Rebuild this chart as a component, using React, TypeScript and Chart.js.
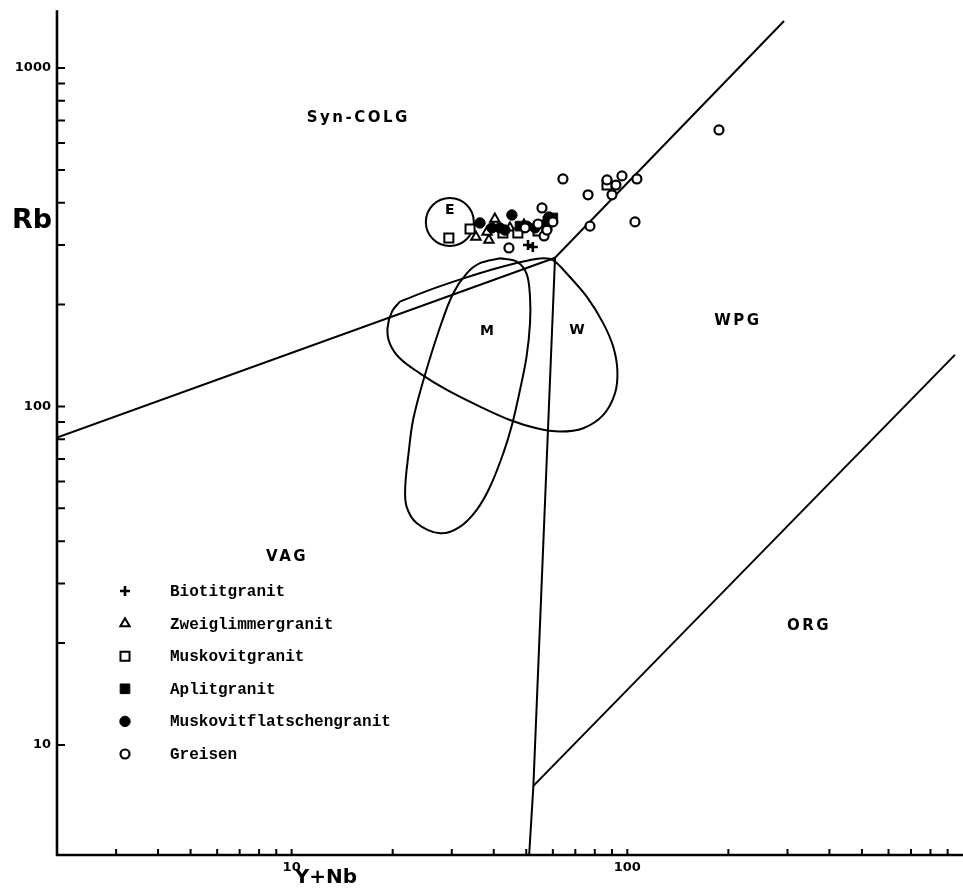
import React, { useEffect, useRef } from "react";
import { Chart, registerables } from "chart.js";

Chart.register(...registerables);

// ---- Axis ranges (log scales) ----
const xRange = [2, 1000];
const yRange = [4.73, 1588];
const yAxisTop = 1480;

const xTicks = [3, 4, 5, 6, 7, 8, 9, 10, 20, 30, 40, 50, 60, 70, 80, 90, 100, 200, 300, 400, 500, 600, 700, 800, 900];
const yTicks = [10, 20, 30, 40, 50, 60, 70, 80, 90, 100, 200, 300, 400, 500, 600, 700, 800, 900, 1000];
const xTickLabels = [10, 100];
const yTickLabels = [10, 100, 1000];
const xTitle = "Y+Nb";
const yTitle = "Rb";

// ---- Field boundaries (Y+Nb, Rb) ----
const lineVagSyn = [[2, 81], [60.9, 275]];
const lineSynWpg = [[60.9, 275], [293, 1377]];
const lineVagWpg = [[60.9, 275], [52.5, 7.57], [51.0, 4.73]];
const lineWpgOrg = [[52.5, 7.57], [946, 142]];

// ---- Comparison fields ----
const fieldM = [
  [41.7, 274], [46.8, 268], [50.1, 247], [51.3, 211], [51.3, 176], [50.1, 140.3], [47.9, 111.9],
  [45.2, 87.2], [42.7, 72.7], [39.0, 57.9], [35.6, 49.5], [31.7, 44.1], [27.7, 42.2], [23.6, 45.2],
  [22.0, 50.6], [21.8, 57.9], [22.3, 72.7], [23.0, 91.2], [24.7, 119.8], [27.7, 172], [30.3, 216],
  [33.2, 247], [36.4, 265], [41.7, 274],
];
const fieldW = [
  [21.0, 204], [25.8, 221], [32.5, 239], [40.8, 256], [49.0, 268], [56.2, 274], [60.2, 270],
  [66.0, 247], [75.7, 211], [84.8, 176], [90.8, 150], [93.4, 128], [91.9, 109.4], [84.8, 94.4],
  [73.9, 86.2], [63.0, 84.3], [53.7, 86.2], [44.7, 91.2], [36.4, 99.9], [29.0, 111.9], [24.1, 125.3],
  [21.0, 138.8], [19.6, 153.7], [19.3, 170.2], [19.9, 190.6], [21.0, 204],
];
const fieldE = [[29.6, 350.7]];

// ---- Field labels ----
const fieldLabels = ["Syn-COLG", "WPG", "VAG", "ORG", "M", "W", "E"];
const fieldLabelX = [15.8, 213.6, 9.69, 347.6, 38.2, 70.8, 29.6];
const fieldLabelY = [711.8, 178.9, 35.9, 22.5, 167.1, 168.3, 380.6];

// ---- Samples (Y+Nb, Rb) ----
const biotitgranit = [[50.6, 300], [52.3, 296]];
const zweiglimmergranit = [[35.4, 316.7], [38.7, 310.4], [40.3, 358], [38.2, 327.7], [44.7, 337], [49.2, 343.7]];
const muskovitgranit = [[29.4, 314.6], [34.0, 334.5], [47.2, 325.5], [54.2, 330], [57.6, 343.7], [87.0, 451], [42.6, 325.5]];
const aplitgranit = [[60.0, 360.5], [58.0, 353], [47.9, 341]];
const muskovitflatschengranit = [[36.4, 348.5], [41.7, 337], [45.3, 367.9], [50.2, 341], [43.2, 332], [53.1, 337], [58.4, 362.9], [39.5, 337]];
const greisen = [
  [64.3, 470], [76.4, 422], [87.0, 467], [92.5, 451], [96.4, 480], [90.0, 422], [106.8, 470],
  [77.4, 341], [105.4, 351], [187.5, 656], [44.4, 294], [55.7, 386], [56.5, 319], [60.0, 351],
  [54.2, 346], [57.6, 332], [49.6, 337],
];

const seriesNames = ["Biotitgranit", "Zweiglimmergranit", "Muskovitgranit", "Aplitgranit", "Muskovitflatschengranit", "Greisen"];
const seriesData = [biotitgranit, zweiglimmergranit, muskovitgranit, aplitgranit, muskovitflatschengranit, greisen];

// marker styles (style, radius, filled, borderWidth)
const seriesStyle: [string, number, boolean, number][] = [
  ["cross", 5, false, 2.6],
  ["triangle", 5.4, false, 2],
  ["rect", 6.4, false, 2],
  ["rect", 6.8, true, 1],
  ["circle", 5.2, true, 1],
  ["circle", 4.5, false, 2.2],
];

const FONT = '"DejaVu Sans", "Liberation Sans", sans-serif';
const MONO = '"Liberation Mono", "DejaVu Sans Mono", monospace';

function drawMarker(ctx: CanvasRenderingContext2D, style: string, x: number, y: number, r: number, filled: boolean, bw: number) {
  ctx.beginPath();
  if (style === "circle") {
    ctx.arc(x, y, r, 0, Math.PI * 2);
  } else if (style === "rect") {
    const s = r * Math.SQRT1_2;
    ctx.rect(x - s, y - s, 2 * s, 2 * s);
  } else if (style === "triangle") {
    const a = (2 * Math.PI) / 3;
    ctx.moveTo(x, y - r);
    ctx.lineTo(x + r * Math.sin(a), y - r * Math.cos(a));
    ctx.lineTo(x + r * Math.sin(2 * a), y - r * Math.cos(2 * a));
    ctx.closePath();
  } else if (style === "cross") {
    ctx.moveTo(x, y - r);
    ctx.lineTo(x, y + r);
    ctx.moveTo(x - r, y);
    ctx.lineTo(x + r, y);
  }
  if (style !== "cross") {
    ctx.fillStyle = filled ? "#000" : "#fff";
    ctx.fill();
  }
  ctx.lineWidth = bw;
  ctx.strokeStyle = "#000";
  ctx.stroke();
}

const decorPlugin = {
  id: "decor",
  afterDatasetsDraw(chart: any) {
    const ctx: CanvasRenderingContext2D = chart.ctx;
    const xs = chart.scales.x;
    const ys = chart.scales.y;
    const x0 = xs.getPixelForValue(xRange[0]);
    const x1 = xs.getPixelForValue(xRange[1]);
    const yb = ys.getPixelForValue(yRange[0]);
    ctx.save();
    ctx.strokeStyle = "#000";
    ctx.lineCap = "butt";
    // axes
    ctx.lineWidth = 2.6;
    ctx.beginPath();
    ctx.moveTo(x0, ys.getPixelForValue(yAxisTop));
    ctx.lineTo(x0, yb);
    ctx.lineTo(x1, yb);
    ctx.stroke();
    // ticks
    ctx.lineWidth = 2;
    ctx.beginPath();
    yTicks.forEach((v) => {
      const p = ys.getPixelForValue(v);
      ctx.moveTo(x0, p);
      ctx.lineTo(x0 + 8, p);
    });
    xTicks.forEach((v) => {
      const p = xs.getPixelForValue(v);
      ctx.moveTo(p, yb);
      ctx.lineTo(p, yb - 6);
    });
    ctx.stroke();
    // tick labels
    ctx.fillStyle = "#000";
    ctx.font = `bold 13px ${FONT}`;
    ctx.textAlign = "right";
    ctx.textBaseline = "middle";
    yTickLabels.forEach((v) => ctx.fillText(String(v), x0 - 6, ys.getPixelForValue(v)));
    ctx.textAlign = "center";
    ctx.textBaseline = "top";
    xTickLabels.forEach((v) => ctx.fillText(String(v), xs.getPixelForValue(v), yb + 6));
    // axis titles
    ctx.font = `bold 27px ${FONT}`;
    ctx.textAlign = "right";
    ctx.textBaseline = "middle";
    ctx.fillText(yTitle, x0 - 5, 221);
    ctx.font = `bold 20px ${FONT}`;
    ctx.textAlign = "center";
    ctx.textBaseline = "middle";
    ctx.fillText(xTitle, 326, 878);
    // field labels
    fieldLabels.forEach((t, i) => {
      const big = t.length > 1;
      ctx.font = `bold ${big ? 15 : 14}px ${FONT}`;
      (ctx as any).letterSpacing = big ? "2.5px" : "0px";
      ctx.fillText(t, xs.getPixelForValue(fieldLabelX[i]), ys.getPixelForValue(fieldLabelY[i]));
    });
    (ctx as any).letterSpacing = "0px";
    // legend
    const lx = 125, tx = 170, ly = 591, step = 32.6;
    ctx.font = `bold 16px ${MONO}`;
    ctx.textAlign = "left";
    ctx.textBaseline = "middle";
    seriesNames.forEach((name, i) => {
      const [st, r, filled, bw] = seriesStyle[i];
      const y = ly + i * step;
      drawMarker(ctx, st, lx, y, r, filled, bw);
      ctx.fillStyle = "#000";
      ctx.fillText(name, tx, y + 1);
    });
    ctx.restore();
  },
};

export default function App() {
  const ref = useRef<HTMLCanvasElement>(null);
  useEffect(() => {
    document.body.style.margin = "0";
    document.body.style.overflow = "hidden";
    const canvas = ref.current!;
    const toPts = (a: number[][]) => a.map(([x, y]) => ({ x, y }));
    const lineDs = (data: number[][], tension = 0) => ({
      data: toPts(data),
      showLine: true,
      borderColor: "#000",
      borderWidth: 2,
      pointRadius: 0,
      tension,
      fill: false,
    });
    const markerDs = seriesNames.map((name, i) => {
      const [st, r, filled, bw] = seriesStyle[i];
      return {
        label: name,
        data: toPts(seriesData[i]),
        showLine: false,
        pointStyle: st,
        pointRadius: r,
        pointBorderWidth: bw,
        pointBorderColor: "#000",
        pointBackgroundColor: filled ? "#000" : "#fff",
      };
    });
    const chart = new Chart(canvas, {
      type: "scatter",
      data: {
        datasets: [
          ...markerDs.slice().reverse(),
          {
            label: "E",
            data: toPts(fieldE),
            showLine: false,
            pointStyle: "circle",
            pointRadius: 24,
            pointBorderWidth: 2,
            pointBorderColor: "#000",
            pointBackgroundColor: "rgba(0,0,0,0)",
          },
          lineDs(fieldM, 0.35),
          lineDs(fieldW, 0.35),
          lineDs(lineVagSyn),
          lineDs(lineSynWpg),
          lineDs(lineVagWpg),
          lineDs(lineWpgOrg),
        ] as any,
      },
      options: {
        responsive: false,
        animation: false,
        devicePixelRatio: 1,
        events: [],
        layout: { autoPadding: false, padding: { left: 57, right: 0, top: 0, bottom: 34 } },
        scales: {
          x: { type: "logarithmic", min: xRange[0], max: xRange[1], display: false },
          y: { type: "logarithmic", min: yRange[0], max: yRange[1], display: false },
        },
        plugins: { legend: { display: false }, tooltip: { enabled: false } },
      } as any,
      plugins: [decorPlugin],
    });
    return () => chart.destroy();
  }, []);
  return <canvas ref={ref} width={963} height={889} style={{ display: "block" }} />;
}
